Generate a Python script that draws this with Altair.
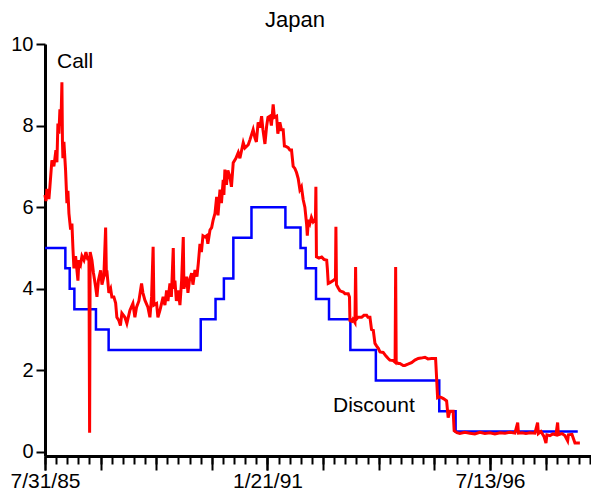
import altair as alt
import pandas as pd

# Overnight call rate (%), dates as decimal years
call_year = [
    1985.578, 1985.603, 1985.627, 1985.676, 1985.701, 1985.750, 1985.799, 1985.849,
    1985.873, 1985.898, 1985.923, 1985.947, 1985.972, 1985.996, 1986.009, 1986.021,
    1986.046, 1986.087, 1986.119, 1986.144, 1986.169, 1986.210, 1986.242, 1986.267,
    1986.292, 1986.334, 1986.366, 1986.390, 1986.415, 1986.457, 1986.489, 1986.538,
    1986.587, 1986.636, 1986.661, 1986.678, 1986.693, 1986.735, 1986.772, 1986.826,
    1986.858, 1986.895, 1986.949, 1986.981, 1987.030, 1987.072, 1987.092, 1987.104,
    1987.153, 1987.195, 1987.227, 1987.276, 1987.318, 1987.350, 1987.399, 1987.436,
    1987.473, 1987.547, 1987.596, 1987.670, 1987.744, 1987.793, 1987.835, 1987.891,
    1987.958, 1987.990, 1988.039, 1988.113, 1988.162, 1988.204, 1988.243, 1988.260,
    1988.327, 1988.359, 1988.408, 1988.489, 1988.531, 1988.573, 1988.605, 1988.654,
    1988.691, 1988.735, 1988.752, 1988.777, 1988.814, 1988.858, 1988.900, 1988.942,
    1988.981, 1988.998, 1989.065, 1989.097, 1989.134, 1989.188, 1989.220, 1989.270,
    1989.319, 1989.351, 1989.393, 1989.430, 1989.466, 1989.516, 1989.557, 1989.589,
    1989.639, 1989.680, 1989.720, 1989.762, 1989.803, 1989.836, 1989.885, 1989.922,
    1989.966, 1989.983, 1990.008, 1990.045, 1990.082, 1990.131, 1990.168, 1990.212,
    1990.279, 1990.335, 1990.377, 1990.458, 1990.500, 1990.581, 1990.623, 1990.704,
    1990.746, 1990.783, 1990.827, 1990.869, 1990.911, 1990.943, 1990.992, 1991.034,
    1991.066, 1991.115, 1991.152, 1991.196, 1991.226, 1991.280, 1991.312, 1991.361,
    1991.398, 1991.443, 1991.472, 1991.509, 1991.566, 1991.608, 1991.649, 1991.689,
    1991.731, 1991.772, 1991.812, 1991.854, 1991.891, 1991.935, 1991.977, 1992.018,
    1992.038, 1992.063, 1992.100, 1992.137, 1992.181, 1992.235, 1992.247, 1992.260,
    1992.321, 1992.388, 1992.444, 1992.511, 1992.530, 1992.550, 1992.592, 1992.673,
    1992.727, 1992.740, 1992.754, 1992.796, 1992.838, 1992.919, 1992.961, 1993.042,
    1993.072, 1993.084, 1993.133, 1993.158, 1993.207, 1993.224, 1993.239, 1993.281,
    1993.372, 1993.429, 1993.495, 1993.527, 1993.577, 1993.614, 1993.658, 1993.700,
    1993.737, 1993.781, 1993.822, 1993.904, 1993.970, 1994.027, 1994.068, 1994.150,
    1994.196, 1994.209, 1994.224, 1994.273, 1994.315, 1994.396, 1994.438, 1994.511,
    1994.602, 1994.684, 1994.765, 1994.831, 1994.930, 1995.004, 1995.095, 1995.193,
    1995.218, 1995.242, 1995.286, 1995.341, 1995.397, 1995.464, 1995.503, 1995.545,
    1995.582, 1995.627, 1995.651, 1995.718, 1995.791, 1995.914, 1996.037, 1996.160,
    1996.283, 1996.406, 1996.530, 1996.653, 1996.776, 1996.899, 1997.022, 1997.145,
    1997.211, 1997.231, 1997.317, 1997.415, 1997.514, 1997.637, 1997.703, 1997.723,
    1997.785, 1997.859, 1997.908, 1997.932, 1998.006, 1998.080, 1998.154, 1998.196,
    1998.216, 1998.302, 1998.375, 1998.442, 1998.462, 1998.548, 1998.622, 1998.745,
]
call_rate = [
    6.30, 6.15, 6.45, 6.20, 6.50, 7.15, 7.00, 7.40,
    7.10, 8.05, 7.80, 8.40, 8.00, 9.06, 7.60, 7.20,
    7.60, 6.90, 6.10, 6.40, 5.85, 5.45, 5.60, 5.00,
    4.50, 4.80, 4.46, 4.20, 4.70, 4.60, 4.80, 4.70,
    4.90, 4.70, 4.80, 0.47, 4.90, 4.70, 4.40, 4.05,
    3.80, 4.20, 4.45, 4.10, 4.30, 5.50, 4.30, 4.45,
    3.90, 4.00, 3.80, 3.80, 3.65, 3.30, 3.22, 3.10,
    3.40, 3.30, 3.15, 3.47, 3.64, 3.30, 3.55, 3.70,
    4.13, 3.90, 3.72, 3.55, 3.30, 3.80, 5.03, 3.60,
    3.64, 3.30, 3.47, 3.80, 3.60, 3.96, 3.70, 4.13,
    3.80, 5.00, 4.00, 4.20, 3.70, 3.96, 3.60, 4.20,
    5.27, 4.00, 4.30, 3.90, 4.20, 4.38, 4.10, 4.46,
    4.30, 4.62, 5.10, 4.90, 5.30, 5.27, 5.30, 5.10,
    5.44, 5.50, 5.69, 5.85, 6.25, 5.80, 6.43, 6.10,
    6.67, 6.30, 6.92, 6.55, 6.90, 6.75, 6.50, 7.09,
    7.20, 7.34, 7.20, 7.58, 7.45, 7.53, 7.65, 7.90,
    7.70, 7.60, 8.08, 7.95, 8.23, 7.90, 7.55, 7.98,
    8.20, 8.23, 8.00, 8.52, 8.20, 8.23, 7.80, 8.08,
    7.90, 7.90, 7.50, 7.49, 7.46, 7.40, 7.40, 7.00,
    6.95, 6.85, 6.70, 6.43, 6.50, 6.18, 6.00, 5.60,
    5.30, 5.69, 5.60, 5.75, 5.64, 5.70, 6.50, 4.78,
    4.75, 4.78, 4.72, 4.70, 4.50, 4.13, 4.15, 4.20,
    4.25, 5.52, 4.10, 4.02, 3.95, 3.92, 3.88, 3.88,
    3.80, 3.22, 3.20, 3.25, 3.17, 4.53, 3.25, 3.30,
    3.30, 3.35, 3.35, 3.30, 3.30, 3.00, 2.98, 2.66,
    2.60, 2.54, 2.45, 2.44, 2.35, 2.29, 2.25, 2.24,
    2.20, 4.53, 2.20, 2.17, 2.17, 2.12, 2.12, 2.15,
    2.19, 2.25, 2.29, 2.30, 2.32, 2.28, 2.29, 2.29,
    1.82, 1.33, 1.35, 1.33, 1.30, 1.25, 0.84, 1.00,
    1.00, 1.00, 0.52, 0.47, 0.45, 0.48, 0.46, 0.44,
    0.48, 0.45, 0.47, 0.44, 0.47, 0.46, 0.48, 0.46,
    0.72, 0.46, 0.47, 0.45, 0.47, 0.46, 0.72, 0.45,
    0.50, 0.38, 0.22, 0.42, 0.40, 0.44, 0.42, 0.72,
    0.42, 0.45, 0.40, 0.27, 0.42, 0.43, 0.22, 0.22,
]

# Official discount rate (%), effective dates of each change
discount_date = [
    "1985-07-31", "1986-01-30", "1986-03-10", "1986-04-21", "1986-11-01",
    "1987-02-23", "1989-05-31", "1989-10-11", "1989-12-25", "1990-03-20",
    "1990-08-30", "1991-07-01", "1991-11-14", "1991-12-30", "1992-04-01",
    "1992-07-27", "1993-02-04", "1993-09-21", "1995-04-14", "1995-09-08",
    "1998-09-10",
]
discount_rate = [
    5.00, 4.50, 4.00, 3.50, 3.00,
    2.50, 3.25, 3.75, 4.25, 5.25,
    6.00, 5.50, 5.00, 4.50, 3.75,
    3.25, 2.50, 1.75, 1.00, 0.50,
    0.50,
]

# Series labels
label_text = ["Call", "Discount"]
label_date = ["1985-11-16", "1992-09-01"]
label_rate = [9.4, 0.97]

Y_TICKS = [0, 2, 4, 6, 8, 10]
FONT = "Liberation Sans"


def decimal_year(y):
    whole = int(y)
    start = pd.Timestamp(whole, 1, 1)
    end = pd.Timestamp(whole + 1, 1, 1)
    return (start + (y - whole) * (end - start)).normalize()


def as_datetime(t):
    return alt.DateTime(year=t.year, month=t.month, date=t.day)


call_df = pd.DataFrame({"date": [decimal_year(y) for y in call_year], "rate": call_rate})
disc_df = pd.DataFrame({"date": pd.to_datetime(discount_date), "rate": discount_rate})
label_df = pd.DataFrame({"date": pd.to_datetime(label_date), "rate": label_rate, "text": label_text})

# Date axis: minor ticks every 100 days, major every 500, labels every 2000
origin = pd.Timestamp("1985-07-31")
minor_ticks = [as_datetime(origin + pd.Timedelta(days=100 * i)) for i in range(50)]
major_ticks = [as_datetime(origin + pd.Timedelta(days=500 * i)) for i in range(10)]
label_ticks = [as_datetime(origin + pd.Timedelta(days=2000 * i)) for i in range(3)]

x_scale = alt.Scale(domain=[as_datetime(origin), alt.DateTime(year=1999, month=1, date=7)])
y_scale = alt.Scale(domain=[-0.1, 10], nice=False, zero=False)

x_labelled = alt.X(
    "date:T", scale=x_scale, title=None,
    axis=alt.Axis(
        orient="bottom", values=label_ticks, format="%-m/%-d/%y", grid=False,
        domain=True, domainColor="black", domainWidth=3,
        ticks=True, tickColor="black", tickWidth=2, tickSize=14,
        labelFont=FONT, labelFontSize=21, labelColor="black", labelPadding=0,
        labelFlush=False, labelOverlap=False,
    ),
)
x_major = alt.X(
    "date:T", scale=x_scale, title=None,
    axis=alt.Axis(
        orient="bottom", values=major_ticks, labels=False, grid=False, domain=False,
        ticks=True, tickColor="black", tickWidth=2, tickSize=14,
    ),
)
x_minor = alt.X(
    "date:T", scale=x_scale, title=None,
    axis=alt.Axis(
        orient="bottom", values=minor_ticks, labels=False, grid=False, domain=False,
        ticks=True, tickColor="black", tickWidth=2, tickSize=8,
    ),
)

y_main = alt.Y(
    "rate:Q", scale=y_scale, title=None,
    axis=alt.Axis(
        values=Y_TICKS, grid=False, domainColor="black", domainWidth=3,
        tickColor="black", tickWidth=2, tickSize=9,
        labelFont=FONT, labelFontSize=20, labelColor="black", labelPadding=3,
        labelFlush=False,
    ),
)
y_plain = alt.Y("rate:Q", scale=y_scale, axis=None)

discount = alt.Chart(disc_df).mark_line(
    color="#0000ff", strokeWidth=2.5, interpolate="step-after"
).encode(x=x_major, y=y_main)

call = alt.Chart(call_df).mark_line(
    color="#ff0000", strokeWidth=3
).encode(x=x_labelled, y=y_plain)

labels = alt.Chart(label_df).mark_text(
    font=FONT, fontSize=21, color="black", align="left", baseline="alphabetic"
).encode(x=x_minor, y=y_plain, text="text:N")

chart = (
    alt.layer(discount, call, labels)
    .resolve_axis(x="independent", y="independent")
    .properties(
        width=546,
        height=412,
        autosize=alt.AutoSizeParams(type="none"),
        padding={"left": 45, "top": 44, "right": 0, "bottom": 39},
        title=alt.TitleParams(
            "Japan", font=FONT, fontSize=22, fontWeight="normal", color="black",
            anchor="middle", dx=-23, offset=2,
        ),
    )
    .configure_view(stroke=None)
)

chart.save("out.html", embed_options={"renderer": "svg", "actions": False})
